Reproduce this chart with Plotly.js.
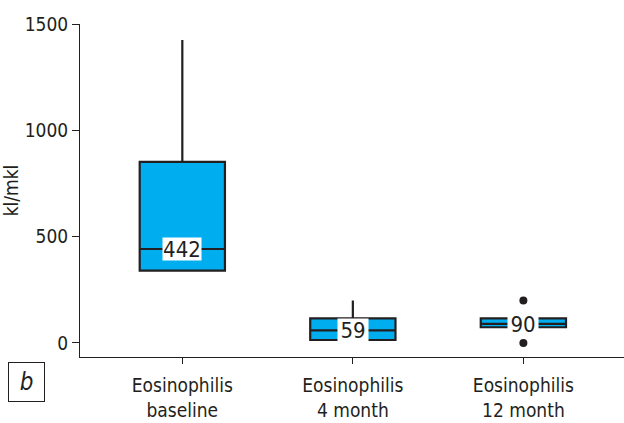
<!DOCTYPE html>
<html>
<head>
<meta charset="utf-8">
<script src="https://cdn.plot.ly/plotly-3.0.1.min.js"></script>
<style>html,body{margin:0;padding:0;background:#fff;}#chart{width:624px;height:423px;}</style>
</head>
<body>
<div id="chart"></div>
<script>
const categories = ["Eosinophilis<br>baseline", "Eosinophilis<br>4 month", "Eosinophilis<br>12 month"];
const q1 = [340, 14, 74];
const medians = [442, 59, 90];
const q3 = [852, 116, 116];
const lowerFence = [340, 14, 74];
const upperFence = [1425, 200, 116];
const outlierX = ["Eosinophilis<br>12 month", "Eosinophilis<br>12 month"];
const outlierY = [200, 0];
const yTicks = [0, 500, 1000, 1500];
const yTitle = "kl/mkl";
const panelLabel = "b";

const FONT = "'Liberation Sans Narrow', 'DejaVu Sans Condensed', 'Roboto Condensed', Roboto, sans-serif";
const DARK = "#231f20";

const traces = [
  {
    type: "box",
    x: categories,
    q1: q1, median: medians, q3: q3,
    lowerfence: lowerFence, upperfence: upperFence,
    fillcolor: "#00aeef",
    line: {color: DARK, width: 2.2},
    whiskerwidth: 0,
    width: 0.5,
    boxpoints: false,
    hoverinfo: "skip",
    showlegend: false
  },
  {
    type: "scatter",
    mode: "markers",
    x: outlierX,
    y: outlierY,
    marker: {color: DARK, size: 8},
    hoverinfo: "skip",
    showlegend: false
  }
];

const annotations = categories.map((c, i) => ({
  x: c, y: medians[i], xref: "x", yref: "y",
  text: String(medians[i]),
  showarrow: false,
  bgcolor: "#ffffff",
  borderpad: 0,
  height: 22,
  width: i === 0 ? 38 : 30,
  font: {family: FONT, size: 22, color: DARK}
}));
annotations.push({
  xref: "paper", yref: "paper",
  x: -0.132, y: -0.015, xanchor: "left", yanchor: "top",
  text: "<i>" + panelLabel + "</i>",
  showarrow: false,
  width: 35, height: 38, borderpad: 0,
  bordercolor: DARK, borderwidth: 1,
  bgcolor: "#ffffff",
  font: {family: FONT, size: 24, color: DARK}
});

const layout = {
  width: 624, height: 423,
  margin: {l: 80, r: 0, t: 24, b: 66},
  paper_bgcolor: "#ffffff",
  plot_bgcolor: "#ffffff",
  font: {family: FONT, size: 19, color: DARK},
  showlegend: false,
  xaxis: {
    type: "category",
    categoryarray: categories,
    range: [-0.6, 2.59],
    showline: true, linecolor: DARK, linewidth: 1,
    ticks: "outside", ticklen: 6, tickcolor: DARK,
    ticklabelstandoff: 5,
    showgrid: false, zeroline: false,
    tickfont: {family: FONT, size: 19, color: DARK},
    fixedrange: true
  },
  yaxis: {
    range: [-66, 1500],
    tickvals: yTicks,
    ticktext: yTicks.map(String),
    showline: true, linecolor: DARK, linewidth: 1,
    ticks: "outside", ticklen: 7, tickcolor: DARK,
    showgrid: false, zeroline: false,
    automargin: true,
    tickfont: {family: FONT, size: 19, color: DARK},
    title: {text: yTitle, font: {family: FONT, size: 19, color: DARK}, standoff: 2},
    fixedrange: true
  },
  annotations: annotations
};

Plotly.newPlot("chart", traces, layout, {staticPlot: true, displayModeBar: false});
</script>
</body>
</html>
